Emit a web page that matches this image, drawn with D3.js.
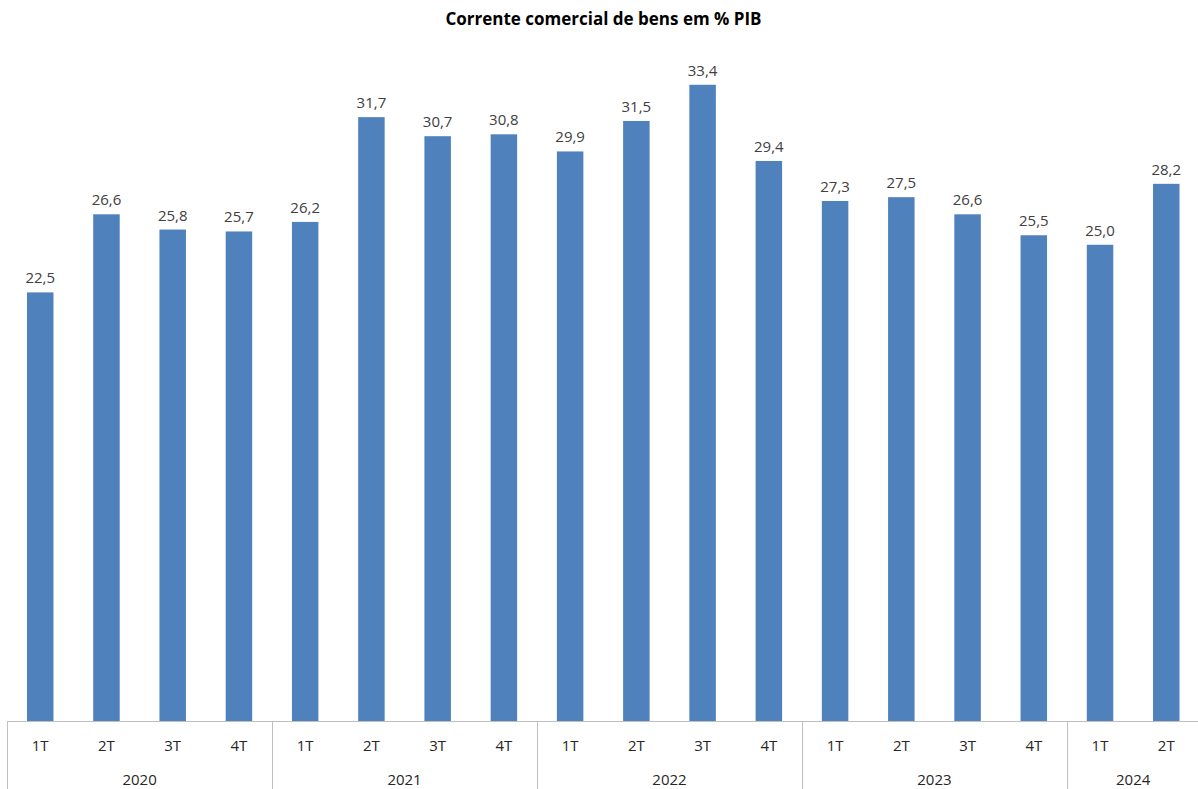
<!DOCTYPE html>
<html>
<head>
<meta charset="utf-8">
<script src="https://cdn.jsdelivr.net/npm/d3@7"></script>
<style>
  html, body { margin: 0; padding: 0; background: #fff; }
  svg { display: block; font-family: "Open Sans", sans-serif; }
</style>
</head>
<body>
<svg id="chart" width="1198" height="789"></svg>
<script>
// Trade flow (exports + imports of goods) as % of GDP, by quarter
const years = ["2020", "2021", "2022", "2023", "2024"];
const quarters = ["1T", "2T", "3T", "4T", "1T", "2T", "3T", "4T", "1T", "2T", "3T", "4T", "1T", "2T", "3T", "4T", "1T", "2T"];
const quarterYears = ["2020", "2020", "2020", "2020", "2021", "2021", "2021", "2021", "2022", "2022", "2022", "2022", "2023", "2023", "2023", "2023", "2024", "2024"];
const values = [22.5, 26.6, 25.8, 25.7, 26.2, 31.7, 30.7, 30.8, 29.9, 31.5, 33.4, 29.4, 27.3, 27.5, 26.6, 25.5, 25.0, 28.2];
const title = "Corrente comercial de bens em % PIB";

const svg = d3.select("#chart");
const left = 7.1, right = 1199.4, baseY = 721, topY = 54.3;

const keys = values.map((_, i) => i);
const x = d3.scaleBand().domain(keys).range([left, right]).paddingInner(0.6).paddingOuter(0.3);
const y = d3.scaleLinear().domain([0, 35]).range([baseY, topY]);
const fmt = v => d3.format(".1f")(v).replace(".", ",");

// Title
svg.append("text")
  .attr("x", 603.5).attr("y", 24.5)
  .attr("text-anchor", "middle")
  .attr("font-size", 17).attr("font-weight", "bold")
  .attr("fill", "#000")
  .text(title);

// Bars
svg.append("g").selectAll("rect").data(values).join("rect")
  .attr("x", (d, i) => x(i))
  .attr("width", x.bandwidth())
  .attr("y", d => y(d))
  .attr("height", d => y(0) - y(d))
  .attr("fill", "#4F81BD");

// Value labels
svg.append("g").selectAll("text").data(values).join("text")
  .attr("x", (d, i) => x(i) + x.bandwidth() / 2)
  .attr("y", d => y(d) - 9)
  .attr("text-anchor", "middle")
  .attr("font-size", 15)
  .attr("fill", "#404040")
  .text(fmt);

// Category axis
const axisColor = "#BFBFBF";
const ax = svg.append("g");
ax.append("line")
  .attr("x1", left).attr("x2", right)
  .attr("y1", baseY + 0.5).attr("y2", baseY + 0.5)
  .attr("stroke", axisColor).attr("stroke-width", 1);

const step = x.step();
const startX = i => left + i * step;

// Quarter labels
ax.selectAll("text.q").data(quarters).join("text")
  .attr("class", "q")
  .attr("x", (d, i) => x(i) + x.bandwidth() / 2)
  .attr("y", 751)
  .attr("text-anchor", "middle")
  .attr("font-size", 15)
  .attr("fill", "#262626")
  .text(d => d);

// Year groups: separators and labels
const groups = years.map(yr => {
  const idx = quarterYears.map((q, i) => q === yr ? i : -1).filter(i => i >= 0);
  return { year: yr, first: d3.min(idx), last: d3.max(idx) };
});

ax.selectAll("line.sep").data(groups.concat([{ first: values.length }])).join("line")
  .attr("class", "sep")
  .attr("x1", d => Math.round(startX(d.first)) + 0.5)
  .attr("x2", d => Math.round(startX(d.first)) + 0.5)
  .attr("y1", baseY).attr("y2", 789)
  .attr("stroke", axisColor).attr("stroke-width", 1);

ax.selectAll("text.yr").data(groups).join("text")
  .attr("class", "yr")
  .attr("x", d => (startX(d.first) + startX(d.last + 1)) / 2)
  .attr("y", 785)
  .attr("text-anchor", "middle")
  .attr("font-size", 15)
  .attr("fill", "#262626")
  .text(d => d.year);
</script>
</body>
</html>
